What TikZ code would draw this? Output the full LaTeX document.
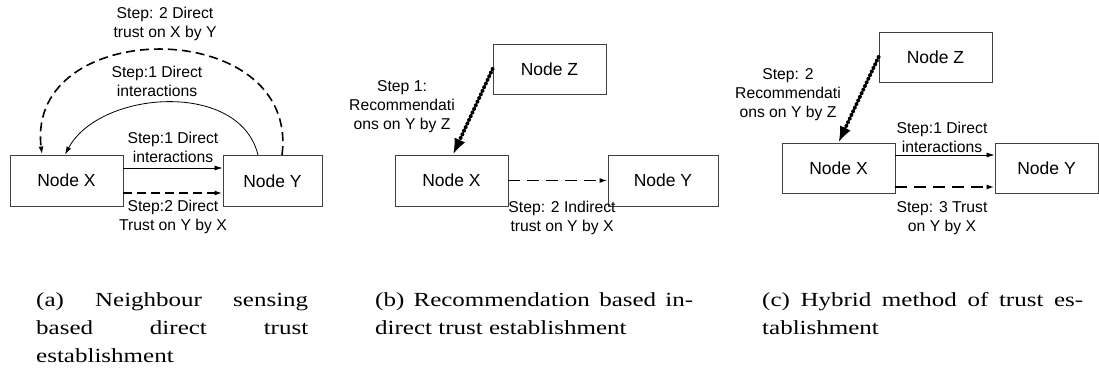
\documentclass[tikz,border=0pt]{standalone}
\usepackage{fontspec}
\setmainfont{Liberation Sans}
\newfontfamily\capfont[FakeStretch=1.25]{Liberation Serif}
\usetikzlibrary{arrows.meta}

\begin{document}
\begin{tikzpicture}[x=1pt,y=-1pt,
	every node/.style={inner sep=0pt},
	nodebox/.style={draw=black!75, line width=0.9pt, minimum width=113pt, minimum height=51pt, font=\fontsize{17.5}{21}\selectfont},
	lbl/.style={align=center, font=\fontsize{15.7}{19}\selectfont},
	capt/.style={anchor=base west, align=justify, font=\capfont\fontsize{20}{28}\selectfont},
	tip/.style={-{Latex[length=8pt,width=5pt]}},
	thinline/.style={line width=0.8pt},
	dashline/.style={dash pattern=on 9pt off 5pt, line width=1.6pt},
	longdash/.style={dash pattern=on 12pt off 7pt, line width=1.6pt},
	dotline/.style={line width=4pt, line cap=round, dash pattern=on 0pt off 4pt, -{Latex[length=16pt,width=12pt]}}]
	\useasboundingbox (0,0) rectangle (1099,372);

	% (a) neighbour sensing
	\node[nodebox] (xa) at (66.5,180.5) {Node X};
	\node[nodebox, minimum width=99pt] (ya) at (272.5,181) {Node Y};
	\draw[tip, thinline] ([yshift=12.5pt]xa.east) -- ([yshift=13pt]ya.west);
	\draw[tip, dashline] ([yshift=-12.5pt]xa.east) -- ([yshift=-12pt]ya.west);
	\draw[tip, thinline] ([xshift=-14.5pt]ya.north) .. controls (240,80) and (100,90) .. ([xshift=-1.5pt]xa.north);
	\draw[tip, dashline] ([xshift=9.5pt]ya.north) .. controls (300,15) and (25,15) .. ([xshift=-24.5pt]xa.north);
	\node[lbl] (la1) at (165,24) {Step: 2 Direct\\trust on X by Y};
	\node[lbl] (la2) at (157,81) {Step:1 Direct\\interactions};
	\node[lbl] (la3) at (173,147.5) {Step:1 Direct\\interactions};
	\node[lbl] (la4) at (173,217) {Step:2 Direct\\Trust on Y by X};

	% (b) recommendation
	\node[nodebox, minimum height=50pt] (zb) at (549.5,69) {Node Z};
	\node[nodebox] (xb) at (451.5,180.5) {Node X};
	\node[nodebox, minimum width=110pt] (yb) at (663,180.5) {Node Y};
	\draw[dotline] (zb.west) -- ([xshift=1.5pt]xb.north);
	\draw[tip, longdash] (xb) -- (yb);
	\node[lbl] (lb1) at (402,107) {Step 1:\\Recommendati\\ons on Y by Z};
	\node[lbl] (lb2) at (562,218) {Step: 2 Indirect\\trust on Y by X};

	% (c) hybrid
	\node[nodebox, minimum height=50pt] (zc) at (935.5,57) {Node Z};
	\node[nodebox, minimum height=50pt] (xc) at (838.5,168) {Node X};
	\node[nodebox, minimum width=103pt, minimum height=50pt] (yc) at (1046.5,168) {Node Y};
	\draw[dotline] (zc.west) -- (xc.north);
	\draw[tip, thinline] ([yshift=13pt]xc.east) -- ([yshift=13pt]yc.west);
	\draw[tip, longdash] ([yshift=-19pt]xc.east) -- ([yshift=-19pt]yc.west);
	\node[lbl] (lc1) at (788,95) {Step: 2\\Recommendati\\ons on Y by Z};
	\node[lbl] (lc2) at (942,137.5) {Step:1 Direct\\interactions};
	\node[lbl] (lc3) at (942,218) {Step: 3 Trust\\on Y by X};

	% captions
	\node[capt, text width=272pt] (capa) at (36,306) {(a) Neighbour sensing\linebreak based direct trust\linebreak establishment};
	\node[capt, text width=318pt] (capb) at (375,306) {(b) Recommendation based in-\linebreak direct trust establishment};
	\node[capt, text width=321pt] (capc) at (762,306) {(c) Hybrid method of trust es-\linebreak tablishment};
\end{tikzpicture}
\end{document}
